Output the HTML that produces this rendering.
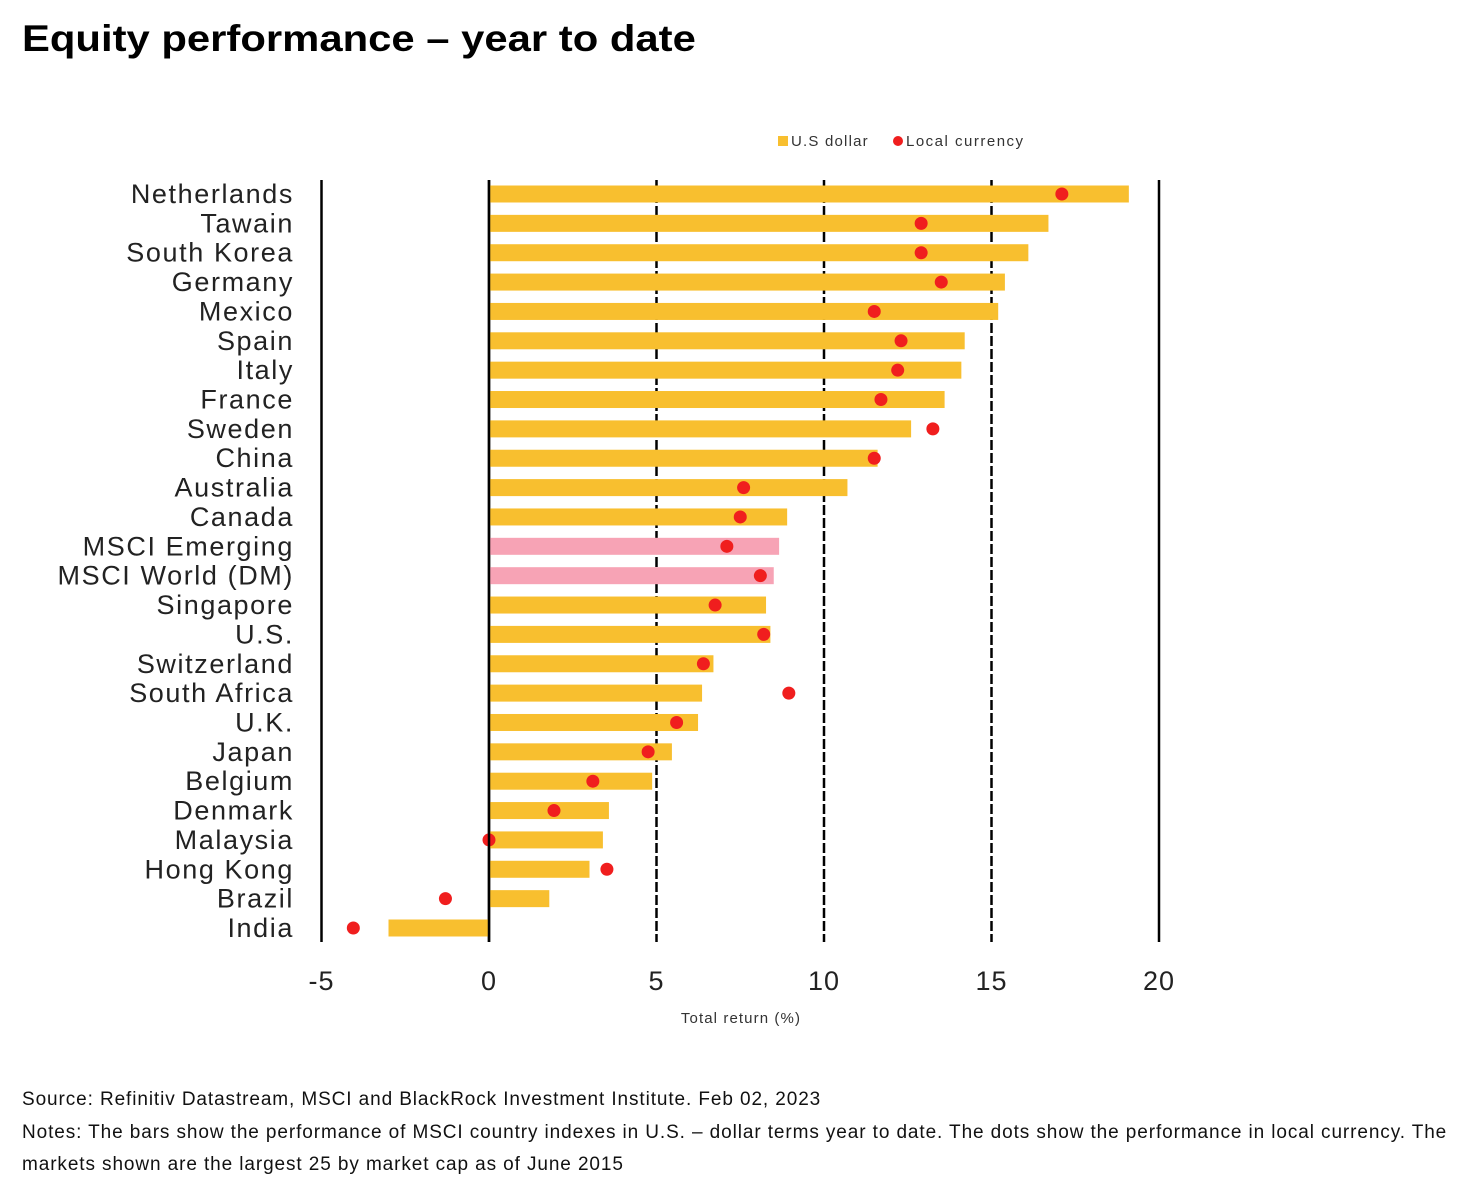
<!DOCTYPE html>
<html><head><meta charset="utf-8"><style>
body{margin:0;background:#fff;width:1470px;height:1202px;overflow:hidden;font-family:"Liberation Sans",sans-serif}
#title{position:absolute;left:22px;top:18px;font-size:37px;font-weight:900;color:#000;transform:scaleX(1.13);transform-origin:left top;white-space:nowrap}
.foot{position:absolute;left:22px;font-size:19px;color:#111;letter-spacing:0.9px}
</style></head><body>
<div id="title">Equity performance – year to date</div>
<svg id="chart" width="1470" height="1060" style="position:absolute;left:0;top:0"></svg>
<div class="foot" style="top:1089px">Source: Refinitiv Datastream, MSCI and BlackRock Investment Institute. Feb 02, 2023</div>
<div class="foot" style="top:1117px;width:1435px;line-height:32px">Notes: The bars show the performance of MSCI country indexes in U.S. – dollar terms year to date. The dots show the performance in local currency. The markets shown are the largest 25 by market cap as of June 2015</div>
<script>
const categories=["Netherlands","Tawain","South Korea","Germany","Mexico","Spain","Italy","France","Sweden","China","Australia","Canada","MSCI Emerging","MSCI World (DM)","Singapore","U.S.","Switzerland","South Africa","U.K.","Japan","Belgium","Denmark","Malaysia","Hong Kong","Brazil","India"];
const usdValues=[19.1,16.7,16.1,15.4,15.2,14.2,14.1,13.6,12.6,11.6,10.7,8.9,8.66,8.5,8.27,8.4,6.7,6.36,6.24,5.46,4.87,3.58,3.4,3.0,1.8,-3.0];
const localValues=[17.1,12.9,12.9,13.5,11.5,12.3,12.2,11.7,13.25,11.5,7.6,7.5,7.1,8.1,6.75,8.2,6.4,8.95,5.6,4.75,3.1,1.94,0,3.52,-1.3,-4.05];
const ticks=[-5,0,5,10,15,20];
const svg=document.getElementById('chart');
const NS='http://www.w3.org/2000/svg';
const x=v=>489+v*33.5;
const y=i=>194+i*29.36;
function mk(t,a){const e=document.createElementNS(NS,t);for(const k in a)e.setAttribute(k,a[k]);svg.appendChild(e);return e;}
ticks.forEach(t=>{
  const l=mk('line',{x1:x(t),x2:x(t),y1:180,y2:942,stroke:'#000','stroke-width':2.5,'stroke-dasharray':(t==5||t==10||t==15)?'10,3':'none'});
  
  
  const tx=mk('text',{x:x(t),y:990,'font-size':27,'text-anchor':'middle',fill:'#222','letter-spacing':1});
  tx.textContent=t;
  
  
});
categories.forEach((c,i)=>{
  const v=usdValues[i];
  const pink=c.startsWith('MSCI');
  const r=mk('rect',{x:Math.min(x(0),x(v)),y:y(i)-8.5,width:Math.abs(x(v)-x(0)),height:17,fill:pink?'#f7a3b5':'#f8bf2f'});
  
  
  const d=mk('circle',{cx:x(localValues[i]),cy:y(i),r:6.5,fill:'#f01e1e'});
  
  
  const t=mk('text',{x:294,y:y(i)+9,'font-size':27,'text-anchor':'end',fill:'#222','letter-spacing':1.6});
  t.textContent=c;
  
  
});
const zl=mk('line',{x1:x(0),x2:x(0),y1:180,y2:942,stroke:'#000','stroke-width':2.5});


const at=mk('text',{x:741,y:1023,'font-size':15,'text-anchor':'middle',fill:'#333','letter-spacing':1.1});
at.textContent='Total return (%)';


const l1=mk('rect',{x:778,y:136,width:10,height:10,fill:'#f8bf2f'});


const lt1=mk('text',{x:791,y:146,'font-size':15,fill:'#333','letter-spacing':1.2});
lt1.textContent='U.S dollar';


const l2=mk('circle',{cx:898,cy:141,r:5,fill:'#f01e1e'});


const lt2=mk('text',{x:906,y:146,'font-size':15,fill:'#333','letter-spacing':1.5});
lt2.textContent='Local currency';


</script>
</body></html>
